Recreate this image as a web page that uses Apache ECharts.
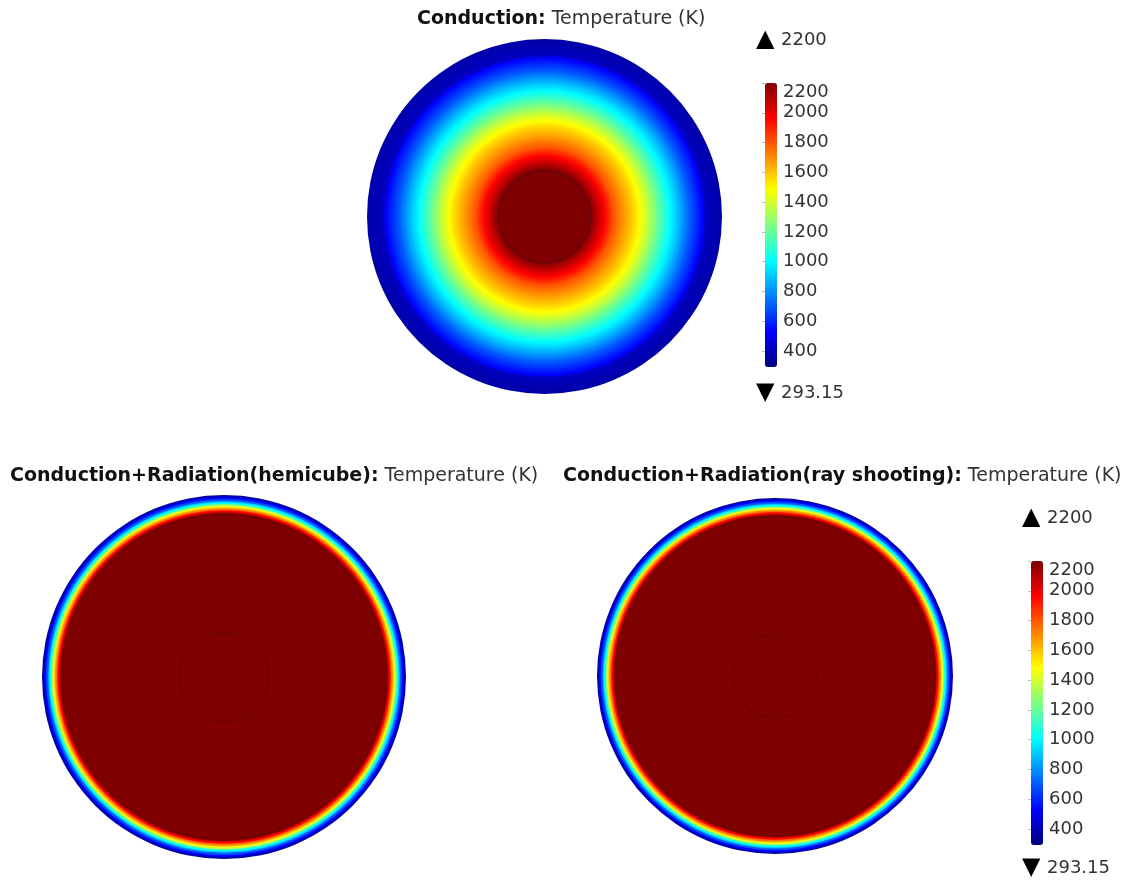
<!DOCTYPE html>
<html>
<head>
<meta charset="utf-8">
<script src="https://cdn.jsdelivr.net/npm/echarts@6/dist/echarts.min.js"></script>
<style>
  html, body { margin: 0; padding: 0; background: #ffffff; }
  #chart { width: 1123px; height: 880px; }
</style>
</head>
<body>
<div id="chart"></div>
<script>
// Temperature scale (K)
const tempMin = 293.15;
const tempMax = 2200;
const colorbarTicks = [400, 600, 800, 1000, 1200, 1400, 1600, 1800, 2000, 2200];
// Rainbow (jet) colour table, evenly spaced from tempMin to tempMax
const jetColors = ['#00007f', '#0000ff', '#007fff', '#00ffff', '#7fff7f', '#ffff00', '#ff7f00', '#ff0000', '#7f0000'];

// Radial temperature profiles: normalised radius r/R and temperature (K)
const conductionRadius = [0, 0.26, 0.30, 0.345, 0.39, 0.46, 0.51, 0.58, 0.645, 0.71, 0.76, 0.82, 0.88, 0.905, 0.915, 1.0];
const conductionTemp   = [2200, 2200, 2080, 1950, 1800, 1650, 1550, 1380, 1180, 1000, 870, 700, 560, 500, 410, 370];

const hemicubeRadius = [0, 0.895, 0.912, 0.923, 0.94, 0.956, 0.972, 0.985, 0.995, 1.0];
const hemicubeTemp   = [2200, 2200, 1960, 1730, 1420, 1010, 700, 520, 380, 320];

const rayRadius = [0, 0.9, 0.915, 0.927, 0.943, 0.958, 0.974, 0.986, 0.995, 1.0];
const rayTemp   = [2200, 2200, 1960, 1730, 1420, 1010, 700, 520, 380, 320];

// Material interfaces (core and outer shell), r/R
const conductionBoundaries = [0.26, 0.905];
const hemicubeBoundaries = [0.245, 0.895];
const rayBoundaries = [0.235, 0.9];

const FONT = '"DejaVu Sans", Verdana, sans-serif';

function hexToRgb(h) {
  return [parseInt(h.slice(1, 3), 16), parseInt(h.slice(3, 5), 16), parseInt(h.slice(5, 7), 16)];
}
const jetRgb = jetColors.map(hexToRgb);

function tempToColor(T) {
  let t = (T - tempMin) / (tempMax - tempMin);
  t = Math.max(0, Math.min(1, t)) * (jetRgb.length - 1);
  const i = Math.min(jetRgb.length - 2, Math.floor(t));
  const f = t - i;
  const a = jetRgb[i], b = jetRgb[i + 1];
  return 'rgb(' + [0, 1, 2].map(k => Math.round(a[k] + (b[k] - a[k]) * f)).join(',') + ')';
}

// Bands between consecutive profile samples: [rInner, rOuter, tInner, tOuter]
function toBands(radius, temp) {
  return radius.slice(1).map((r, i) => [radius[i], r, temp[i], temp[i + 1]]);
}
function toCircles(list) {
  return list.map(r => [r, 0]);
}

function pixelRadius(api, c, value) {
  const p = api.coord([value, 0]);
  return Math.hypot(p[0] - c[0], p[1] - c[1]);
}

// Each band is a ring shaded radially from its inner to its outer temperature
function renderBand(params, api) {
  const c = api.coord([0, 0]);
  const rIn = pixelRadius(api, c, api.value(0));
  const rOut = pixelRadius(api, c, api.value(1));
  const tIn = api.value(2), tOut = api.value(3);
  const stops = [{ offset: rIn / rOut, color: tempToColor(tIn) }];
  if (tIn !== tOut) {
    const n = jetRgb.length - 1;
    const keys = [];
    for (let k = 1; k < n; k++) {
      const kt = tempMin + (k / n) * (tempMax - tempMin);
      if ((kt - tIn) * (kt - tOut) < 0) keys.push(kt);
    }
    keys.forEach(kt => {
      const p = rIn + (kt - tIn) / (tOut - tIn) * (rOut - rIn);
      stops.push({ offset: p / rOut, color: tempToColor(kt) });
    });
    stops.sort((a, b) => a.offset - b.offset);
  }
  stops.push({ offset: 1, color: tempToColor(tOut) });
  return {
    type: 'ring',
    shape: { cx: c[0], cy: c[1], r: rOut, r0: Math.max(0, rIn - 0.8) },
    style: { fill: new echarts.graphic.RadialGradient(c[0], c[1], rOut, stops, true) },
    silent: true
  };
}

function makeBoundaryRenderer(color, width) {
  return function (params, api) {
    const c = api.coord([0, 0]);
    const r = pixelRadius(api, c, api.value(0));
    return {
      type: 'circle',
      shape: { cx: c[0], cy: c[1], r: r },
      style: { fill: 'none', stroke: color, lineWidth: width },
      silent: true
    };
  };
}

function polarAxes(idx) {
  return {
    radius: { polarIndex: idx, type: 'value', min: 0, max: 1, show: false },
    angle: { polarIndex: idx, type: 'value', min: 0, max: 360, show: false }
  };
}
const axes = [0, 1, 2].map(polarAxes);

function colorbarAxis(gridIndex) {
  return {
    gridIndex: gridIndex,
    type: 'value',
    position: 'right',
    min: tempMin,
    max: tempMax,
    axisLine: { show: false },
    splitLine: { show: false },
    axisTick: {
      show: true, inside: true, length: 3, customValues: colorbarTicks,
      lineStyle: { color: 'rgba(0,0,0,0.25)', width: 1 }
    },
    axisLabel: {
      customValues: colorbarTicks, margin: 6, color: '#333',
      fontSize: 18, fontFamily: FONT, verticalAlignMaxLabel: 'top',
      formatter: v => String(v)
    }
  };
}

function colorbarVisual(seriesIndex, left, top) {
  return {
    type: 'continuous',
    min: tempMin, max: tempMax,
    seriesIndex: seriesIndex, dimension: 2,
    orient: 'vertical', left: left, top: top,
    itemWidth: 12, itemHeight: 284, padding: 0,
    borderRadius: 0, itemStyle: { borderRadius: 0 },
    calculable: false, hoverLink: false,
    inRange: { color: jetColors },
    textStyle: { color: '#333' }
  };
}

function titleText(x, y, bold, rest) {
  return {
    type: 'text', x: x, y: y, silent: true,
    style: {
      text: '{b|' + bold + '}{n| ' + rest + '}',
      textVerticalAlign: 'middle',
      font: '19px ' + FONT,
      fill: '#333',
      rich: {
        b: { font: 'bold 19px ' + FONT, fill: '#111', color: '#111' },
        n: { font: '19px ' + FONT, fill: '#333', color: '#333' }
      }
    }
  };
}

// Range marker beside a colour bar: triangle glyph and the limit value
function endMarks(x, y, mark, value) {
  return [
    { type: 'text', x: x, y: y, silent: true,
      style: { text: mark, font: '24px ' + FONT, fill: '#000', textVerticalAlign: 'middle' } },
    { type: 'text', x: x + 25, y: y, silent: true,
      style: { text: value, font: '18px ' + FONT, fill: '#333', textVerticalAlign: 'middle' } }
  ];
}

const chart = echarts.init(document.getElementById('chart'), null, { renderer: 'canvas' });

chart.setOption({
  backgroundColor: '#ffffff',
  animation: false,
  polar: [
    { center: [544.5, 216.5], radius: 177.5 },
    { center: [224, 677], radius: 182 },
    { center: [775, 676], radius: 178 }
  ],
  radiusAxis: axes.map(a => a.radius),
  angleAxis: axes.map(a => a.angle),
  grid: [
    { left: 765, top: 83, width: 12, height: 284 },
    { left: 1031, top: 561, width: 12, height: 284 }
  ],
  xAxis: [
    { gridIndex: 0, type: 'value', show: false },
    { gridIndex: 1, type: 'value', show: false }
  ],
  yAxis: [colorbarAxis(0), colorbarAxis(1)],
  visualMap: [
    colorbarVisual([0], 765, 83),
    colorbarVisual([1, 2], 1031, 561)
  ],
  series: [
    { type: 'custom', name: 'Conduction', coordinateSystem: 'polar', polarIndex: 0,
      renderItem: renderBand, data: toBands(conductionRadius, conductionTemp) },
    { type: 'custom', name: 'Conduction+Radiation(hemicube)', coordinateSystem: 'polar', polarIndex: 1,
      renderItem: renderBand, data: toBands(hemicubeRadius, hemicubeTemp) },
    { type: 'custom', name: 'Conduction+Radiation(ray shooting)', coordinateSystem: 'polar', polarIndex: 2,
      renderItem: renderBand, data: toBands(rayRadius, rayTemp) },
    { type: 'custom', coordinateSystem: 'polar', polarIndex: 0,
      renderItem: makeBoundaryRenderer('rgba(20,10,60,0.2)', 1.5), data: toCircles(conductionBoundaries) },
    { type: 'custom', coordinateSystem: 'polar', polarIndex: 1,
      renderItem: makeBoundaryRenderer('rgba(40,0,0,0.13)', 2), data: toCircles(hemicubeBoundaries) },
    { type: 'custom', coordinateSystem: 'polar', polarIndex: 2,
      renderItem: makeBoundaryRenderer('rgba(40,0,0,0.13)', 2), data: toCircles(rayBoundaries) }
  ],
  graphic: [
    titleText(417, 19, 'Conduction:', 'Temperature (K)'),
    titleText(10, 476, 'Conduction+Radiation(hemicube):', 'Temperature (K)'),
    titleText(563, 476, 'Conduction+Radiation(ray shooting):', 'Temperature (K)')
  ].concat(
    endMarks(756, 40, '\u25B2', '2200'),
    endMarks(756, 393, '\u25BC', '293.15'),
    endMarks(1022, 518, '\u25B2', '2200'),
    endMarks(1022, 868, '\u25BC', '293.15')
  )
});
</script>
</body>
</html>
